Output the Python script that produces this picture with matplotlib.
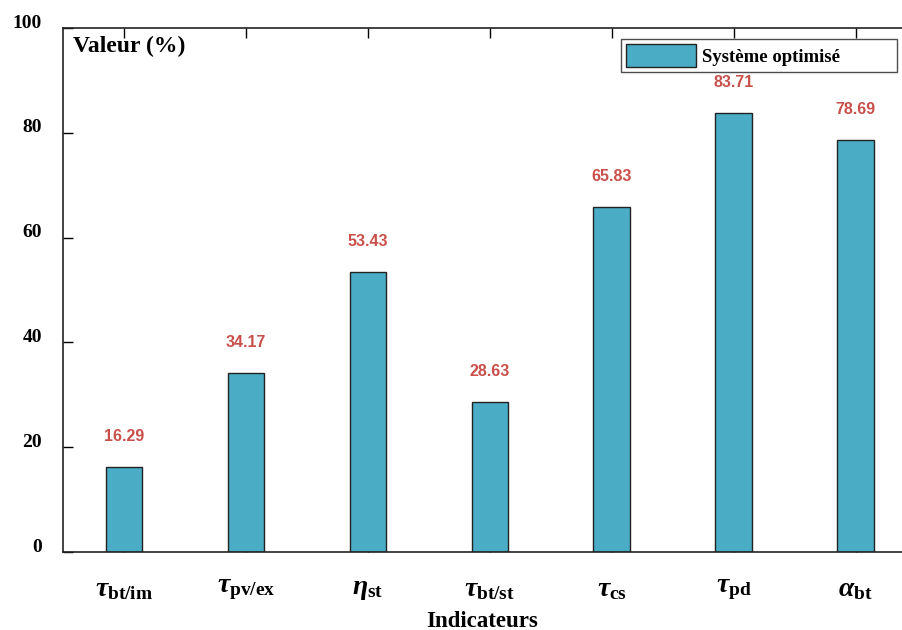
import matplotlib
matplotlib.use("Agg")
import matplotlib.pyplot as plt
import matplotlib.transforms as mtransforms

# data
labels = [r'$\tau_{\mathbf{bt/im}}$', r'$\tau_{\mathbf{pv/ex}}$',
          r'$\eta_{\mathbf{st}}$', r'$\tau_{\mathbf{bt/st}}$',
          r'$\tau_{\mathbf{cs}}$', r'$\tau_{\mathbf{pd}}$',
          r'$\alpha_{\mathbf{bt}}$']
values = [16.29, 34.17, 53.43, 28.63, 65.83, 83.71, 78.69]
yticks = [0, 20, 40, 60, 80, 100]

serif = 'Liberation Serif'
plt.rcParams['mathtext.fontset'] = 'custom'
plt.rcParams['mathtext.it'] = 'Liberation Serif:bold:italic'
plt.rcParams['mathtext.bf'] = 'Liberation Serif:bold'
plt.rcParams['mathtext.rm'] = 'Liberation Serif:bold'

fig = plt.figure(figsize=(9.02, 6.3), dpi=100)
ax = fig.add_axes([63 / 902, 1 - 552 / 630, 1 - 63 / 902, 524 / 630])

x = list(range(len(values)))
ax.bar(x, values, width=0.3, color='#4BACC6', edgecolor='#222222', linewidth=1.0,
       label='Système optimisé', zorder=2)

for xi, v in zip(x, values):
    ax.annotate(f'{v:.2f}', (xi, v), xytext=(0, 22), textcoords='offset points',
                ha='center', va='center', color='#C9504A', fontsize=11.5,
                fontweight='bold', family='Liberation Sans')

ax.set_xlim(-0.5, 6.38)
ax.set_ylim(0, 100)
ax.spines['right'].set_visible(False)
for s in ['left', 'bottom', 'top']:
    ax.spines[s].set_linewidth(1.2)
    ax.spines[s].set_color('#222222')

ax.set_xticks(x)
ax.set_xticklabels(labels, fontsize=20)
ax.tick_params(axis='x', direction='in', top=True, length=7, width=1, pad=16)
ax.set_yticks(yticks)
ax.set_yticklabels([str(t) for t in yticks], fontsize=14, fontweight='bold', family=serif)
ax.tick_params(axis='y', direction='in', length=7, width=1, pad=15)
off = mtransforms.ScaledTranslation(0, 7 / 100, fig.dpi_scale_trans)
for lab in ax.get_yticklabels():
    lab.set_transform(lab.get_transform() + off)

ax.set_xlabel('Indicateurs', fontsize=16.5, fontweight='bold', family=serif, labelpad=6)
ax.text(0.012, 0.985, 'Valeur (%)', transform=ax.transAxes, ha='left', va='top',
        fontsize=17, fontweight='bold', family=serif)

leg = ax.legend(loc='upper left', bbox_to_anchor=(0.665, 0.5, 0.329, 0.479), mode='expand',
                borderaxespad=0, fancybox=False,
                prop={'family': serif, 'weight': 'bold', 'size': 13.5},
                handlelength=3.73, handleheight=1.55, borderpad=0.25, handletextpad=0.32)
leg.get_frame().set_edgecolor('#222222')
leg.get_frame().set_linewidth(1.0)

fig.savefig('out.png', dpi=100)
